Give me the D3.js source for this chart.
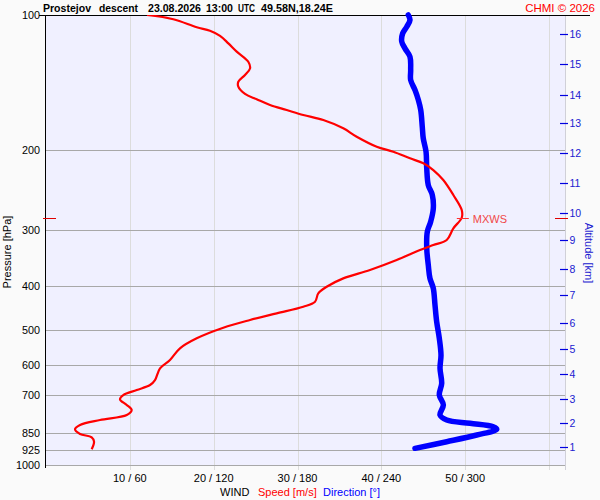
<!DOCTYPE html>
<html><head><meta charset="utf-8">
<script src="https://cdn.jsdelivr.net/npm/d3@7"></script>
<style>
html,body{margin:0;padding:0;background:#fafafa;}
svg{display:block;font-family:"Liberation Sans",Arial,sans-serif;}
</style></head>
<body><svg id="c" width="600" height="500"></svg>
<script>
// ---- data ----
const pressureTicks = [200, 300, 400, 500, 600, 700, 850, 925, 1000];
const pressureLabels = ["100","200","300","400","500","600","700","850","925","1000"];
const speedTicks = [10, 20, 30, 40, 50];
const speedTickLabels = ["10 / 60","20 / 120","30 / 180","40 / 240","50 / 300"];
const altKm = [1,2,3,4,5,6,7,8,9,10,11,12,13,14,15,16];
const altP  = [910.8,807.9,713.5,628.5,553.2,482.9,419.0,366.8,316.2,275.0,236.6,203.0,174.1,150.4,128.5,110.2];

const speedP = [100,102.2,106.5,108.4,111.3,115.6,120.6,127.0,131.4,135.9,140.7,144.3,149.8,153.9,158.5,162.6,166.8,171.2,178.6,186.4,196.2,201.3,208.2,213.6,221.1,232.7,251.2,271.3,282.2,297.9,316.2,324.4,332.9,350.4,368.8,384.8,401.7,415.5,433.7,444.9,460.2,476.2,495.4,522.9,550.4,584.3,609.7,647.4,664.2,681.3,699.0,714.5,735.6,754.7,774.3,794.3,814.9,833.0,853.3,867.8,887.6,922.9];
const speedVal = [12.05,15.19,17.98,19.56,20.76,21.75,22.75,24.13,24.34,23.74,22.94,22.94,23.74,25.13,26.72,28.71,30.69,33.08,35.46,37.06,39.45,41.43,43.42,45.01,46.20,47.39,48.59,49.59,49.59,48.59,47.80,46.20,44.61,41.83,38.65,35.46,33.48,32.48,32.09,30.69,27.52,24.34,21.15,17.98,15.98,14.79,13.60,13.00,12.41,10.82,9.22,8.83,9.63,10.22,9.63,6.44,4.06,3.46,4.06,5.45,5.73,5.45];

const dirP = [100,102.6,106.2,109.8,114.6,118.6,123.8,132.5,139.5,146.8,154.5,162.6,177.1,187.9,201.3,219.2,238.7,251.2,268.9,288.0,303.1,329.9,359.4,384.8,405.0,441.1,480.4,522.9,569.5,609.7,658.5,699.0,735.6,774.3,794.3,807.9,822.1,833.0,857.7,887.6,918.2];
const dirVal = [259.3,260.5,258.2,255.3,254.6,256.9,260.5,261.0,261.0,264.1,266.5,268.2,269.3,270.0,272.0,272.5,273.6,276.5,277.2,275.3,272.9,272.5,273.6,274.8,277.2,278.4,279.6,281.5,282.7,282.0,283.2,281.5,284.4,282.0,286.8,303.5,320.1,322.6,308.3,286.8,264.1];

const mxwsP = 282.2, mxwsSpeed = 49.6;
const titleParts = ["Prostejov", "descent", "23.08.2026", "13:00", "UTC", "49.58N,18.24E"];

// ---- drawing ----
const svg = d3.select("#c");
const L = 45, R = 565, T = 15, B = 465;
const y = d3.scaleLog().domain([100, 1000]).range([T, B]);
const xs = d3.scaleLinear().domain([0, 60]).range([46, 549]);
const xd = d3.scaleLinear().domain([0, 360]).range([46, 549]);

svg.append("rect").attr("x", L).attr("y", T).attr("width", R - L).attr("height", B - T).attr("fill", "#f0f0ff");

// vertical grid
svg.append("g").selectAll("line").data([10,20,30,40,50,60]).join("line")
  .attr("x1", d => Math.round(xs(d)) + 0.5).attr("x2", d => Math.round(xs(d)) + 0.5).attr("y1", T).attr("y2", 470)
  .attr("stroke", "#dcdcdc").attr("stroke-width", 1);
// right border
svg.append("line").attr("x1", R + 0.5).attr("x2", R + 0.5).attr("y1", T).attr("y2", 470)
  .attr("stroke", "#d0d0d8");
// horizontal grid
svg.append("g").selectAll("line").data(pressureTicks).join("line")
  .attr("x1", L).attr("x2", R).attr("y1", d => Math.round(y(d)) + 0.5).attr("y2", d => Math.round(y(d)) + 0.5)
  .attr("stroke", "#a8a8a8").attr("stroke-width", 1);

// left axis
svg.append("line").attr("x1", L + 0.5).attr("x2", L + 0.5).attr("y1", T).attr("y2", 468).attr("stroke", "#000");
// top line
svg.append("line").attr("x1", 39).attr("x2", 590).attr("y1", T + 0.5).attr("y2", T + 0.5).attr("stroke", "#000");

// pressure labels
svg.append("g").selectAll("text").data([100].concat(pressureTicks)).join("text")
  .attr("x", 40).attr("y", d => y(d) + 4).attr("text-anchor", "end")
  .attr("font-size", 10.8).attr("fill", "#000").text((d, i) => pressureLabels[i]);

svg.append("text").attr("transform", "translate(11,252) rotate(-90)").attr("text-anchor", "middle")
  .attr("font-size", 11).attr("fill", "#000").text("Pressure [hPa]");

// altitude axis
const ag = svg.append("g");
ag.selectAll("line").data(altKm).join("line")
  .attr("x1", 560).attr("x2", 568).attr("y1", (d, i) => Math.round(y(altP[i])) + 0.5).attr("y2", (d, i) => Math.round(y(altP[i])) + 0.5)
  .attr("stroke", "#0000e0").attr("stroke-width", 1.2);
ag.selectAll("text").data(altKm).join("text")
  .attr("x", 569.5).attr("y", (d, i) => y(altP[i]) + 4).attr("font-size", 10.5).attr("fill", "#2020d0").text(d => d);
svg.append("text").attr("transform", "translate(585,253) rotate(90)").attr("text-anchor", "middle")
  .attr("font-size", 11).attr("fill", "#2020d0").text("Altitude [km]");

// bottom labels
svg.append("g").selectAll("text").data(speedTicks).join("text")
  .attr("x", d => xs(d)).attr("y", 482).attr("text-anchor", "middle")
  .attr("font-size", 11).attr("fill", "#000").text((d, i) => speedTickLabels[i]);
const leg = svg.append("text").attr("y", 496).attr("font-size", 11);
leg.append("tspan").attr("x", 220).attr("fill", "#000").text("WIND");
leg.append("tspan").attr("x", 258).attr("fill", "#ff0000").text("Speed [m/s]");
leg.append("tspan").attr("x", 323).attr("fill", "#0000ff").text("Direction [°]");

// title
const titleX = [43, 99, 148, 206, 238, 261];
const titleW = [48, 39, 53, 27, 17, 72];
svg.append("g").selectAll("text").data(titleParts).join("text")
  .attr("x", (d, i) => titleX[i]).attr("y", 12).attr("font-size", 11.5).attr("font-weight", "bold").attr("fill", "#000")
  .attr("textLength", (d, i) => titleW[i]).attr("lengthAdjust", "spacingAndGlyphs").text(d => d);
svg.append("text").attr("x", 595).attr("y", 12).attr("text-anchor", "end").attr("font-size", 11.5)
  .attr("fill", "#ff0000").text("CHMI © 2026");

// clip
svg.append("clipPath").attr("id", "pc").append("rect").attr("x", L).attr("y", T).attr("width", R - L).attr("height", B - T);

// direction line
const dirLine = d3.line().x((d, i) => xd(dirVal[i])).y(d => y(d)).curve(d3.curveCatmullRom.alpha(0.5));
svg.append("path").datum(dirP).attr("d", dirLine).attr("fill", "none")
  .attr("stroke", "#0000ff").attr("stroke-width", 5.5).attr("stroke-linecap", "round").attr("stroke-linejoin", "round");

// speed line
const spLine = d3.line().x((d, i) => xs(speedVal[i])).y(d => y(d)).curve(d3.curveCatmullRom.alpha(0.5));
svg.append("path").datum(speedP).attr("d", spLine).attr("fill", "none").attr("clip-path", "url(#pc)")
  .attr("stroke", "#ff0000").attr("stroke-width", 2.2).attr("stroke-linejoin", "round");

// MXWS marks
const my = Math.round(y(mxwsP)) + 0.5;
svg.append("line").attr("x1", xs(mxwsSpeed) - 5).attr("x2", xs(mxwsSpeed) + 7).attr("y1", my).attr("y2", my).attr("stroke", "#ff3030");
svg.append("line").attr("x1", 43).attr("x2", 56).attr("y1", my).attr("y2", my).attr("stroke", "#e00000");
svg.append("line").attr("x1", 555).attr("x2", 568).attr("y1", my).attr("y2", my).attr("stroke", "#e00000");
svg.append("text").attr("x", xs(mxwsSpeed) + 11).attr("y", my + 4).attr("font-size", 11).attr("fill", "#f04848").text("MXWS");
</script></body></html>
